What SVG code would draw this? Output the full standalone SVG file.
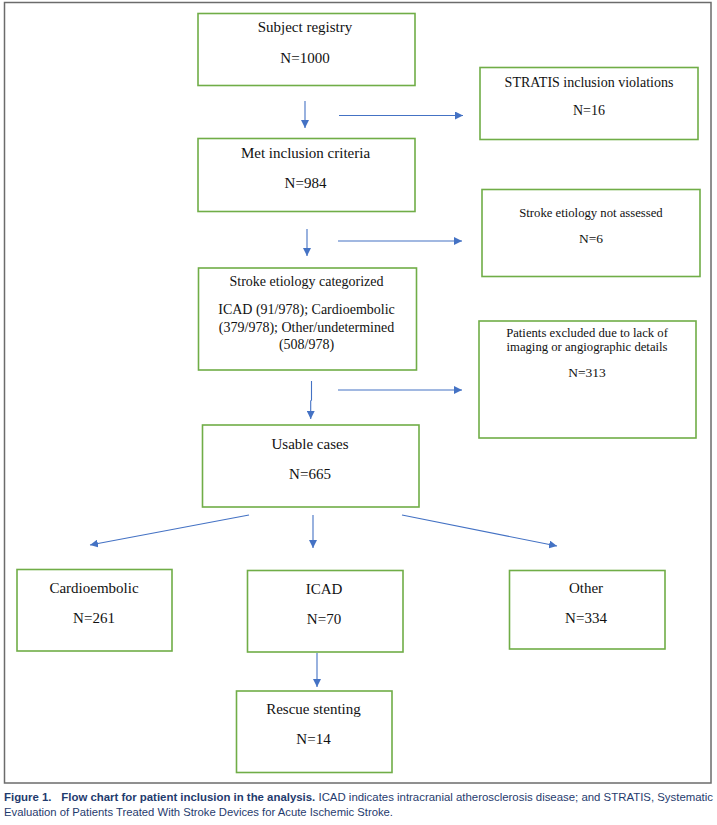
<svg xmlns="http://www.w3.org/2000/svg" width="717" height="825" viewBox="0 0 717 825">
<defs>
<style>
.box{fill:#ffffff;stroke:#70ad47;stroke-width:1.6}
.t{font-family:"Liberation Serif","Times New Roman",serif;font-size:15px;fill:#111;text-anchor:middle}
.t14{font-size:14px}
.t13{font-size:12.7px}
.n13{font-size:13.5px}
.ln{fill:none;stroke:#4472c4;stroke-width:1.1}
.cap{font-family:"Liberation Sans",Arial,sans-serif;font-size:10.5px;fill:#1f3b6e}
</style>
<marker id="ah" viewBox="0 0 10 10" refX="10" refY="5" markerWidth="8" markerHeight="8" markerUnits="userSpaceOnUse" orient="auto">
<path d="M0,0 L10,5 L0,10 Z" fill="#4472c4"/>
</marker>
</defs>
<rect x="0" y="0" width="717" height="825" fill="#ffffff"/>
<rect x="4.5" y="2.5" width="706.5" height="780.5" fill="none" stroke="#6b6b6b" stroke-width="1.5"/>

<g id="n-subject">
<rect class="box" x="198" y="13.5" width="217" height="72"/>
<text class="t" x="305" y="32">Subject registry</text>
<text class="t" x="305" y="63">N=1000</text>
</g>
<g id="n-stratis">
<rect class="box" x="480" y="67.5" width="218" height="72"/>
<text class="t t14" x="589" y="87">STRATIS inclusion violations</text>
<text class="t t14" x="589" y="115">N=16</text>
</g>
<g id="n-met">
<rect class="box" x="198" y="138.5" width="217" height="73"/>
<text class="t" x="305.5" y="158">Met inclusion criteria</text>
<text class="t" x="305.5" y="188">N=984</text>
</g>
<g id="n-notassessed">
<rect class="box" x="482" y="189.5" width="218" height="87"/>
<text class="t t13" x="591" y="217">Stroke etiology not assessed</text>
<text class="t n13" x="591" y="243">N=6</text>
</g>
<g id="n-categorized">
<rect class="box" x="198.5" y="268" width="218" height="102"/>
<text class="t t14" x="306.5" y="286">Stroke etiology categorized</text>
<text class="t t14" x="306.5" y="314">ICAD (91/978); Cardioembolic</text>
<text class="t t14" x="306.5" y="331.5">(379/978); Other/undetermined</text>
<text class="t t14" x="306.5" y="349">(508/978)</text>
</g>
<g id="n-excluded">
<rect class="box" x="479" y="321" width="217" height="117"/>
<text class="t t13" x="587" y="337">Patients excluded due to lack of</text>
<text class="t t13" x="587" y="351">imaging or angiographic details</text>
<text class="t n13" x="587" y="377">N=313</text>
</g>
<g id="n-usable">
<rect class="box" x="202.5" y="425" width="216.5" height="82"/>
<text class="t" x="310" y="449">Usable cases</text>
<text class="t" x="310" y="479">N=665</text>
</g>
<g id="n-cardio">
<rect class="box" x="17" y="569.5" width="155" height="81.5"/>
<text class="t" x="94" y="593">Cardioembolic</text>
<text class="t" x="94" y="623">N=261</text>
</g>
<g id="n-icad">
<rect class="box" x="247.5" y="570.5" width="155.5" height="81.5"/>
<text class="t" x="324" y="594">ICAD</text>
<text class="t" x="324" y="624">N=70</text>
</g>
<g id="n-other">
<rect class="box" x="509.5" y="570.5" width="155.5" height="78.5"/>
<text class="t" x="586" y="593">Other</text>
<text class="t" x="586" y="623">N=334</text>
</g>
<g id="n-rescue">
<rect class="box" x="236.5" y="691" width="155.5" height="81.5"/>
<text class="t" x="313.5" y="714">Rescue stenting</text>
<text class="t" x="313.5" y="744">N=14</text>
</g>

<g id="connectors">
<line class="ln" x1="305" y1="101" x2="305" y2="128" marker-end="url(#ah)"/>
<line class="ln" x1="339" y1="115.5" x2="463" y2="115.5" marker-end="url(#ah)"/>
<line class="ln" x1="307" y1="229" x2="307" y2="256" marker-end="url(#ah)"/>
<line class="ln" x1="338" y1="241" x2="462" y2="241" marker-end="url(#ah)"/>
<polyline class="ln" points="311.5,381 311.5,400 310.7,401 310.7,419" marker-end="url(#ah)"/>
<line class="ln" x1="338" y1="390" x2="462" y2="390" marker-end="url(#ah)"/>
<line class="ln" x1="249" y1="515" x2="90" y2="545" marker-end="url(#ah)"/>
<line class="ln" x1="313" y1="515" x2="313" y2="548" marker-end="url(#ah)"/>
<line class="ln" x1="402" y1="515" x2="557" y2="546" marker-end="url(#ah)"/>
<line class="ln" x1="317" y1="653" x2="317" y2="687" marker-end="url(#ah)"/>
</g>

<text class="cap" x="4" y="801" textLength="709" lengthAdjust="spacingAndGlyphs"><tspan font-weight="bold">Figure 1.</tspan><tspan font-weight="bold" dx="9">Flow chart for patient inclusion in the analysis.</tspan> ICAD indicates intracranial atherosclerosis disease; and STRATIS, Systematic</text>
<text class="cap" x="4" y="816" textLength="389" lengthAdjust="spacingAndGlyphs">Evaluation of Patients Treated With Stroke Devices for Acute Ischemic Stroke.</text>
</svg>
